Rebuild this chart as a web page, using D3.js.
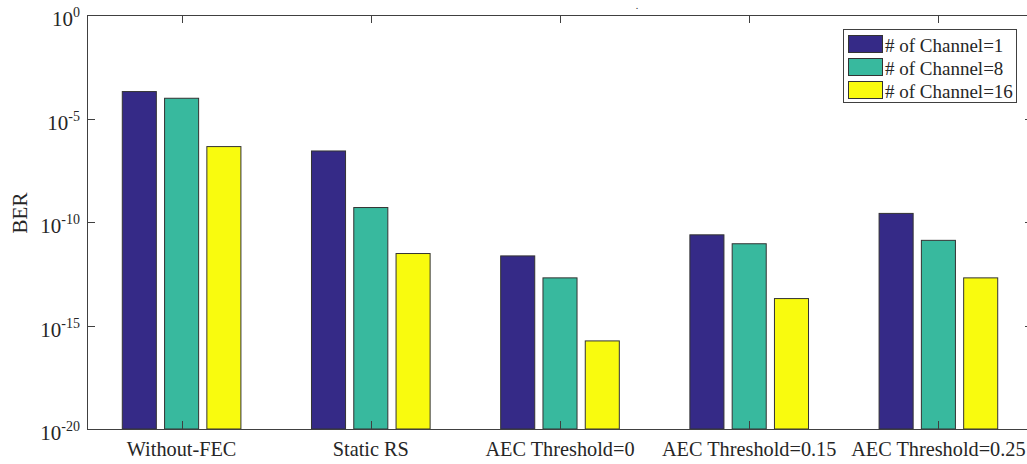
<!DOCTYPE html>
<html>
<head>
<meta charset="utf-8">
<script src="https://cdn.jsdelivr.net/npm/d3@7"></script>
<style>
  html, body { margin: 0; padding: 0; background: #fff; }
  svg text { font-family: "Liberation Serif", "Times New Roman", serif; fill: #262626; }
</style>
</head>
<body>
<div id="chart"></div>
<script>
// chart data
const categories = ['Without-FEC', 'Static RS', 'AEC Threshold=0', 'AEC Threshold=0.15', 'AEC Threshold=0.25']
const seriesNames = ['# of Channel=1', '# of Channel=8', '# of Channel=16']
const ch1 = [2.0e-4, 2.7e-7, 2.3e-12, 2.4e-11, 2.6e-10]
const ch8 = [9.5e-5, 5.0e-10, 2.0e-13, 8.9e-12, 1.3e-11]
const ch16 = [4.4e-7, 3.0e-12, 1.8e-16, 2.0e-14, 2.0e-13]
const yTickExps = [0, -5, -10, -15, -20]

const colors = ['#352a87', '#38b99e', '#f9fb0e']
const series = [ch1, ch8, ch16]

const width = 1027, height = 464
const margin = { left: 87, right: -6, top: 15, bottom: 35 }

let svg = d3.select('#chart').append('svg')
    .attr('width', width)
    .attr('height', height)

let x0 = margin.left, x1 = width - margin.right
let yTop = margin.top, yBot = height - margin.bottom

// category axis: MATLAB style, categories at 1..5, limits 0.5..5.5
let x = d3.scaleLinear().domain([0.5, categories.length + 0.5]).range([x0, x1])
let y = d3.scaleLog().domain([1e-20, 1]).range([yBot, yTop])

let step = x(2) - x(1)
let barW = step * 0.18
let offset = step * 0.2235

// bars
series.forEach(function (vals, s) {
    svg.append('g').selectAll('rect')
        .data(vals)
        .enter()
        .append('rect')
        .attr('x', function (d, i) { return x(i + 1) + (s - 1) * offset - barW / 2 })
        .attr('y', function (d) { return y(d) })
        .attr('width', barW)
        .attr('height', function (d) { return yBot - y(d) })
        .attr('fill', colors[s])
        .attr('stroke', '#333')
        .attr('stroke-width', 1)
})

// axes box
let axisColor = '#404040'
let box = svg.append('g').attr('stroke', axisColor).attr('stroke-width', 1).attr('fill', 'none')
box.append('line').attr('x1', x0).attr('x2', x1).attr('y1', yTop + 0.5).attr('y2', yTop + 0.5)
box.append('line').attr('x1', x0).attr('x2', x1).attr('y1', yBot + 0.5).attr('y2', yBot + 0.5)
box.append('line').attr('x1', x0 + 0.5).attr('x2', x0 + 0.5).attr('y1', yTop).attr('y2', yBot)
box.append('line').attr('x1', x1 - 0.5).attr('x2', x1 - 0.5).attr('y1', yTop).attr('y2', yBot)

let tickLen = 8
// y ticks (left and right, inward)
yTickExps.forEach(function (e) {
    let ty = Math.round(y(Math.pow(10, e))) + 0.5
    box.append('line').attr('x1', x0).attr('x2', x0 + tickLen).attr('y1', ty).attr('y2', ty)
    box.append('line').attr('x1', x1 - tickLen).attr('x2', x1).attr('y1', ty).attr('y2', ty)
    let t = svg.append('text')
        .attr('x', x0 - 7)
        .attr('y', y(Math.pow(10, e)) + 11)
        .attr('text-anchor', 'end')
        .style('font-size', '21px')
    t.append('tspan').text('10')
    t.append('tspan').attr('dy', -9).style('font-size', '14px').text(String(e))
})

// x ticks (top and bottom, inward)
categories.forEach(function (c, i) {
    let tx = Math.round(x(i + 1)) + 0.5
    box.append('line').attr('x1', tx).attr('x2', tx).attr('y1', yTop).attr('y2', yTop + tickLen)
    box.append('line').attr('x1', tx).attr('x2', tx).attr('y1', yBot - tickLen).attr('y2', yBot)
})

// x labels
svg.append('g').selectAll('text')
    .data(categories)
    .enter()
    .append('text')
    .attr('x', function (d, i) { return x(i + 1) })
    .attr('y', yBot + 27)
    .attr('text-anchor', 'middle')
    .style('font-size', '20.3px')
    .text(function (d) { return d })

// y label
svg.append('text')
    .attr('transform', 'translate(27,213) rotate(-90)')
    .attr('text-anchor', 'middle')
    .style('font-size', '21px')
    .text('BER')

// tiny title dot
svg.append('text')
    .attr('x', 637).attr('y', 9)
    .attr('text-anchor', 'middle')
    .style('font-size', '10px')
    .text('.')

// legend
let lg = svg.append('g').attr('transform', 'translate(843,29)')
lg.append('rect')
    .attr('x', 0.5).attr('y', 0.5)
    .attr('width', 173).attr('height', 73)
    .attr('fill', '#fff')
    .attr('stroke', axisColor)
let rowH = 23
seriesNames.forEach(function (name, i) {
    lg.append('rect')
        .attr('x', 5.5).attr('y', 6.5 + i * rowH)
        .attr('width', 34).attr('height', 17)
        .attr('fill', colors[i])
        .attr('stroke', '#333')
    lg.append('text')
        .attr('x', 42)
        .attr('y', 22.5 + i * rowH)
        .style('font-size', '19px')
        .text(name)
})
</script>
</body>
</html>
